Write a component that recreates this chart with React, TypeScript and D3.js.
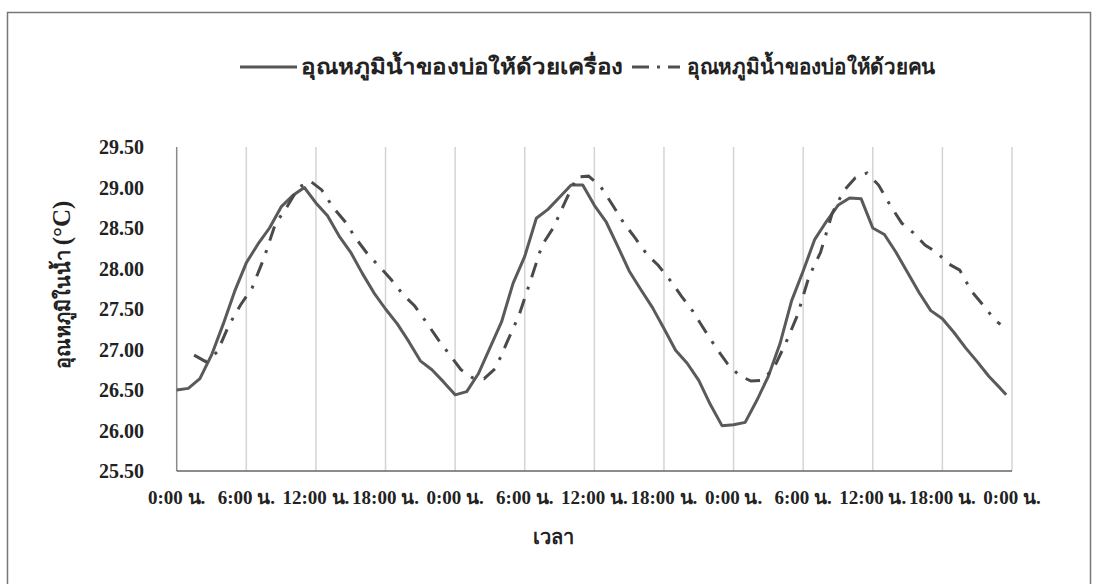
import React from "react";
import * as d3 from "d3";

// hours since the first 0:00
const hourTicks = [0, 6, 12, 18, 24, 30, 36, 42, 48, 54, 60, 66, 72];
const hourLabels = [
  "0:00 น.", "6:00 น.", "12:00 น.", "18:00 น.", "0:00 น.", "6:00 น.", "12:00 น.",
  "18:00 น.", "0:00 น.", "6:00 น.", "12:00 น.", "18:00 น.", "0:00 น.",
];
const tempTicks = [25.5, 26, 26.5, 27, 27.5, 28, 28.5, 29, 29.5];

const seriesNames = ["อุณหภูมิน้ำของบ่อให้ด้วยเครื่อง", "อุณหภูมิน้ำของบ่อให้ด้วยคน"];

// pond fed by machine (solid)
const machineHours = d3.range(0, 72).concat([71.5]);
const machineTemp = [
  26.5, 26.52, 26.64, 26.93, 27.31, 27.72, 28.07, 28.3, 28.5, 28.76, 28.9, 29.0,
  28.81, 28.65, 28.4, 28.2, 27.94, 27.7, 27.5, 27.32, 27.1, 26.86, 26.75, 26.6,
  26.44, 26.48, 26.7, 27.02, 27.34, 27.82, 28.15, 28.62, 28.73, 28.88, 29.03, 29.03,
  28.78, 28.58, 28.28, 27.97, 27.74, 27.52, 27.26, 26.99, 26.83, 26.62, 26.32, 26.06,
  26.07, 26.1, 26.37, 26.67, 27.07, 27.6, 27.97, 28.36, 28.58, 28.78, 28.87, 28.86,
  28.5, 28.42, 28.2, 27.95, 27.7, 27.48, 27.38, 27.21, 27.02, 26.85, 26.67, 26.52,
  26.44,
];

// pond fed by hand (dash-dot)
const manualHours = d3.range(1.5, 71, 1).concat([71]);
const manualTemp = [
  26.93, 26.85, 26.97, 27.3, 27.55, 27.76, 28.12, 28.55, 28.76, 29.0, 29.08, 28.97,
  28.75, 28.58, 28.36, 28.17, 28.02, 27.86, 27.68, 27.54, 27.34, 27.13, 26.94, 26.75,
  26.65, 26.64, 26.77, 27.1, 27.42, 27.85, 28.29, 28.51, 28.83, 29.13, 29.14, 29.02,
  28.8, 28.57, 28.38, 28.18, 28.04, 27.86, 27.66, 27.47, 27.24, 27.02, 26.82, 26.68,
  26.61, 26.62, 26.78, 27.08, 27.42, 27.9, 28.2, 28.68, 28.96, 29.12, 29.18, 29.03,
  28.78, 28.56, 28.44, 28.29, 28.2, 28.06, 27.98, 27.72, 27.55, 27.37, 27.31,
];

const W = 1097;
const H = 584;
const serif = "'Liberation Serif', 'Times New Roman', serif";

export default function App() {
  const x = d3.scaleLinear().domain([0, 72]).range([176.7, 1012]);
  const y = d3.scaleLinear().domain([25.5, 29.5]).range([471, 147]);

  const line = d3
    .line<[number, number]>()
    .x((d) => x(d[0]))
    .y((d) => y(d[1]));

  const machine = machineHours.map((h, i) => [h, machineTemp[i]] as [number, number]);
  const manual = manualHours.map((h, i) => [h, manualTemp[i]] as [number, number]);

  const dashDot = "15,10,3,10";

  return (
    <svg
      width={W}
      height={H}
      style={{ position: "absolute", left: 0, top: 0, background: "#fff" }}
      fontFamily={serif}
    >
      <rect x={7.5} y={12.5} width={1083} height={600} fill="none" stroke="#777" strokeWidth={1.5} />

      {/* legend */}
      <g fontWeight="bold" fontSize={21} fill="#222">
        <line x1={240} x2={297} y1={67} y2={67} stroke="#555" strokeWidth={3} />
        <text x={301} y={74} textLength={322} lengthAdjust="spacingAndGlyphs">
          {seriesNames[0]}
        </text>
        <line x1={632} x2={680} y1={67} y2={67} stroke="#505050" strokeWidth={3} strokeDasharray="17,8,3,8" />
        <text x={687} y={74} textLength={248} lengthAdjust="spacingAndGlyphs">
          {seriesNames[1]}
        </text>
      </g>

      {/* vertical grid */}
      {hourTicks.slice(1).map((h) => (
        <line key={h} x1={x(h)} x2={x(h)} y1={y(29.5)} y2={y(25.5)} stroke="#d4d4d4" strokeWidth={1.5} />
      ))}

      {/* axes */}
      <line x1={x(0)} x2={x(0)} y1={y(29.5)} y2={y(25.5)} stroke="#8a8a8a" strokeWidth={1.5} />
      <line x1={x(0)} x2={x(72)} y1={y(25.5)} y2={y(25.5)} stroke="#666" strokeWidth={1.5} />

      {tempTicks.map((t) => (
        <text
          key={t}
          x={144}
          y={y(t)}
          dy="0.35em"
          textAnchor="end"
          fontWeight="bold"
          fontSize={20}
          fill="#222"
        >
          {t.toFixed(2)}
        </text>
      ))}

      {hourTicks.map((h, i) => (
        <text
          key={i}
          x={x(h)}
          y={504}
          textAnchor="middle"
          fontWeight="bold"
          fontSize={19}
          fill="#222"
        >
          {hourLabels[i]}
        </text>
      ))}

      <text x={553} y={544} textAnchor="middle" fontWeight="bold" fontSize={20} fill="#222">
        เวลา
      </text>

      <text
        transform={`translate(70,285) rotate(-90)`}
        textAnchor="middle"
        fontWeight="bold"
        fill="#222"
      >
        <tspan fontSize={20}>อุณหภูมิในน้ำ </tspan>
        <tspan fontSize={25}>(°C)</tspan>
      </text>

      {/* series */}
      <path d={line(machine) ?? ""} fill="none" stroke="#5a5a5a" strokeWidth={3} strokeLinejoin="round" />
      <path
        d={line(manual) ?? ""}
        fill="none"
        stroke="#4a4a4a"
        strokeWidth={3}
        strokeDasharray={dashDot}
      />
    </svg>
  );
}
